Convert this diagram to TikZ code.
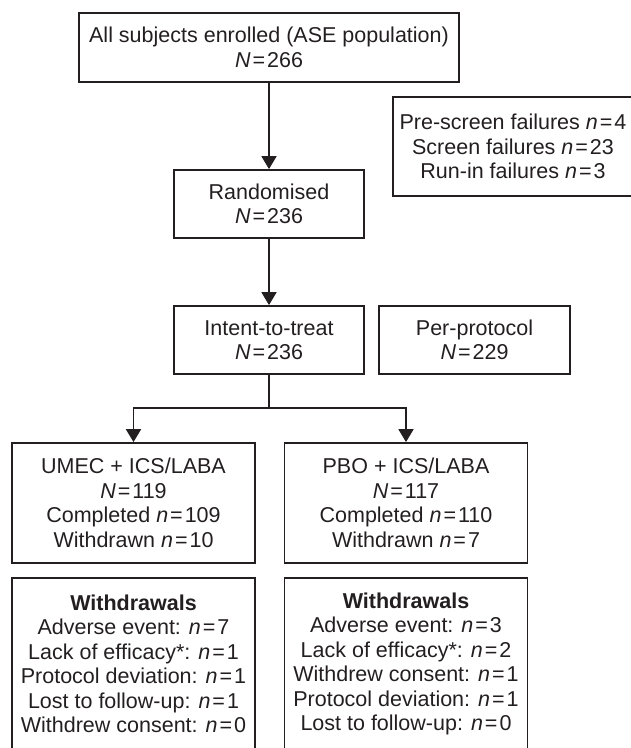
\documentclass[tikz,border=0pt]{standalone}
\usepackage{fontspec}
\setmainfont{Liberation Sans}
\usetikzlibrary{arrows.meta}
\definecolor{cfink}{HTML}{231F20}
\newcommand{\bigN}[1]{\textit{N}\kern2pt=\kern2pt#1}
\newcommand{\smalln}[1]{\textit{n}\kern2pt=\kern2pt#1}

\begin{document}
\begin{tikzpicture}[x=1pt,y=-1pt,
  flowbox/.style={draw=cfink,line width=1.8pt,text=cfink,align=center,inner sep=0pt,
    font=\fontsize{21.5}{24.5}\selectfont},
  flowarrow/.style={draw=cfink,line width=1.8pt,-{Triangle[length=13pt,width=15pt]}}]
  \useasboundingbox (0,0) rectangle (631,748);
  \clip (0,0) rectangle (631,748);
  % screening and randomisation
  \node[flowbox,minimum width=380pt,minimum height=69pt] (enrol) at (269,47.5)
    {All subjects enrolled (ASE population)\\\bigN{266}};
  \node[flowbox,minimum width=240pt,minimum height=99pt] (fail) at (513,146.5)
    {Pre-screen failures \smalln{4}\\Screen failures \smalln{23}\\Run-in failures \smalln{3}};
  \node[flowbox,minimum width=190pt,minimum height=68pt] (rand) at (269,204)
    {Randomised\\\bigN{236}};
  % analysis populations
  \node[flowbox,minimum width=190pt,minimum height=68pt] (itt) at (269,340)
    {Intent-to-treat\\\bigN{236}};
  \node[flowbox,minimum width=191pt,minimum height=68pt] (pp) at (474.5,340)
    {Per-protocol\\\bigN{229}};
  % treatment arms
  \node[flowbox,minimum width=243pt,minimum height=120pt] (umec) at (133.5,503)
    {UMEC + ICS/LABA\\\bigN{119}\\Completed \smalln{109}\\Withdrawn \smalln{10}};
  \node[flowbox,minimum width=243pt,minimum height=120pt] (pbo) at (406,503)
    {PBO + ICS/LABA\\\bigN{117}\\Completed \smalln{110}\\Withdrawn \smalln{7}};
  \node[flowbox,minimum width=243pt,minimum height=172pt] (wumec) at (133.5,664)
    {\textbf{Withdrawals}\\Adverse event: \smalln{7}\\Lack of efficacy*: \smalln{1}\\
     Protocol deviation: \smalln{1}\\Lost to follow-up: \smalln{1}\\Withdrew consent: \smalln{0}};
  \node[flowbox,minimum width=243pt,minimum height=172pt] (wpbo) at (406,664)
    {\textbf{Withdrawals}\\Adverse event: \smalln{3}\\Lack of efficacy*: \smalln{2}\\
     Withdrew consent: \smalln{1}\\Protocol deviation: \smalln{1}\\Lost to follow-up: \smalln{0}};
  % connectors
  \coordinate (split) at (269,408);
  \draw[flowarrow] (enrol) -- (rand);
  \draw[flowarrow] (rand) -- (itt);
  \draw[flowarrow] (itt) -- (split) -| (umec);
  \draw[flowarrow] (split) -| (pbo);
\end{tikzpicture}
\end{document}
